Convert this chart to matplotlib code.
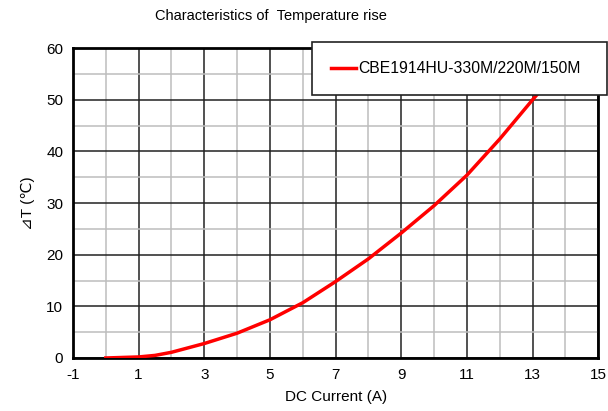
import matplotlib
matplotlib.use("Agg")
import matplotlib.pyplot as plt
from matplotlib.ticker import MultipleLocator

plt.rcParams['font.family'] = ['Liberation Sans', 'DejaVu Sans']
plt.rcParams['axes.unicode_minus'] = False

# data
current = [0.0, 1.0, 1.5, 2.0, 3.0, 4.0, 5.0, 6.0, 7.0, 8.0, 9.0, 10.0, 11.0, 12.0, 13.0, 13.35, 13.7]
temp_rise = [0.0, 0.2, 0.5, 1.1, 2.8, 4.8, 7.4, 10.7, 14.8, 19.2, 24.2, 29.5, 35.4, 42.4, 50.0, 52.6, 55.5]
series_name = 'CBE1914HU-330M/220M/150M'

fig = plt.figure(figsize=(6.08, 4.11), dpi=100)
ax = fig.add_axes([0.120, 0.129, 0.864, 0.754])

ax.plot(current, temp_rise, color='#ff0000', lw=2.5, label=series_name, zorder=3,
        solid_joinstyle='round')

ax.set_xlim(-1, 15)
ax.set_ylim(0, 60)
ax.xaxis.set_minor_locator(MultipleLocator(1))
ax.yaxis.set_major_locator(MultipleLocator(10))
ax.yaxis.set_minor_locator(MultipleLocator(5))
ax.set_xticks(range(-1, 16, 2))

ax.grid(which='major', color='#222222', lw=1.1)
ax.grid(which='minor', color='#bdbdbd', lw=1.1)
ax.set_axisbelow(True)
ax.tick_params(which='both', length=0, labelsize=11, pad=7)

for s in ax.spines.values():
    s.set_linewidth(2)
    s.set_color('black')

ax.set_xlabel('DC Current (A)', fontsize=11, labelpad=6)
ax.set_ylabel('⊿T (℃)', fontsize=11, labelpad=8)
fig.text(0.445, 0.962, 'Characteristics of  Temperature rise', ha='center', va='center', fontsize=10.5)

leg = ax.legend(loc='upper left', bbox_to_anchor=(0.455, 1.019, 0.562, 0.0), mode='expand',
                fontsize=11.3, frameon=True, fancybox=False, framealpha=1, edgecolor='#222222',
                handlelength=1.6, handletextpad=0.15, borderpad=1.2, borderaxespad=0)
leg.get_frame().set_linewidth(1.2)
leg.set_zorder(5)

fig.savefig('out.png', dpi=100)
